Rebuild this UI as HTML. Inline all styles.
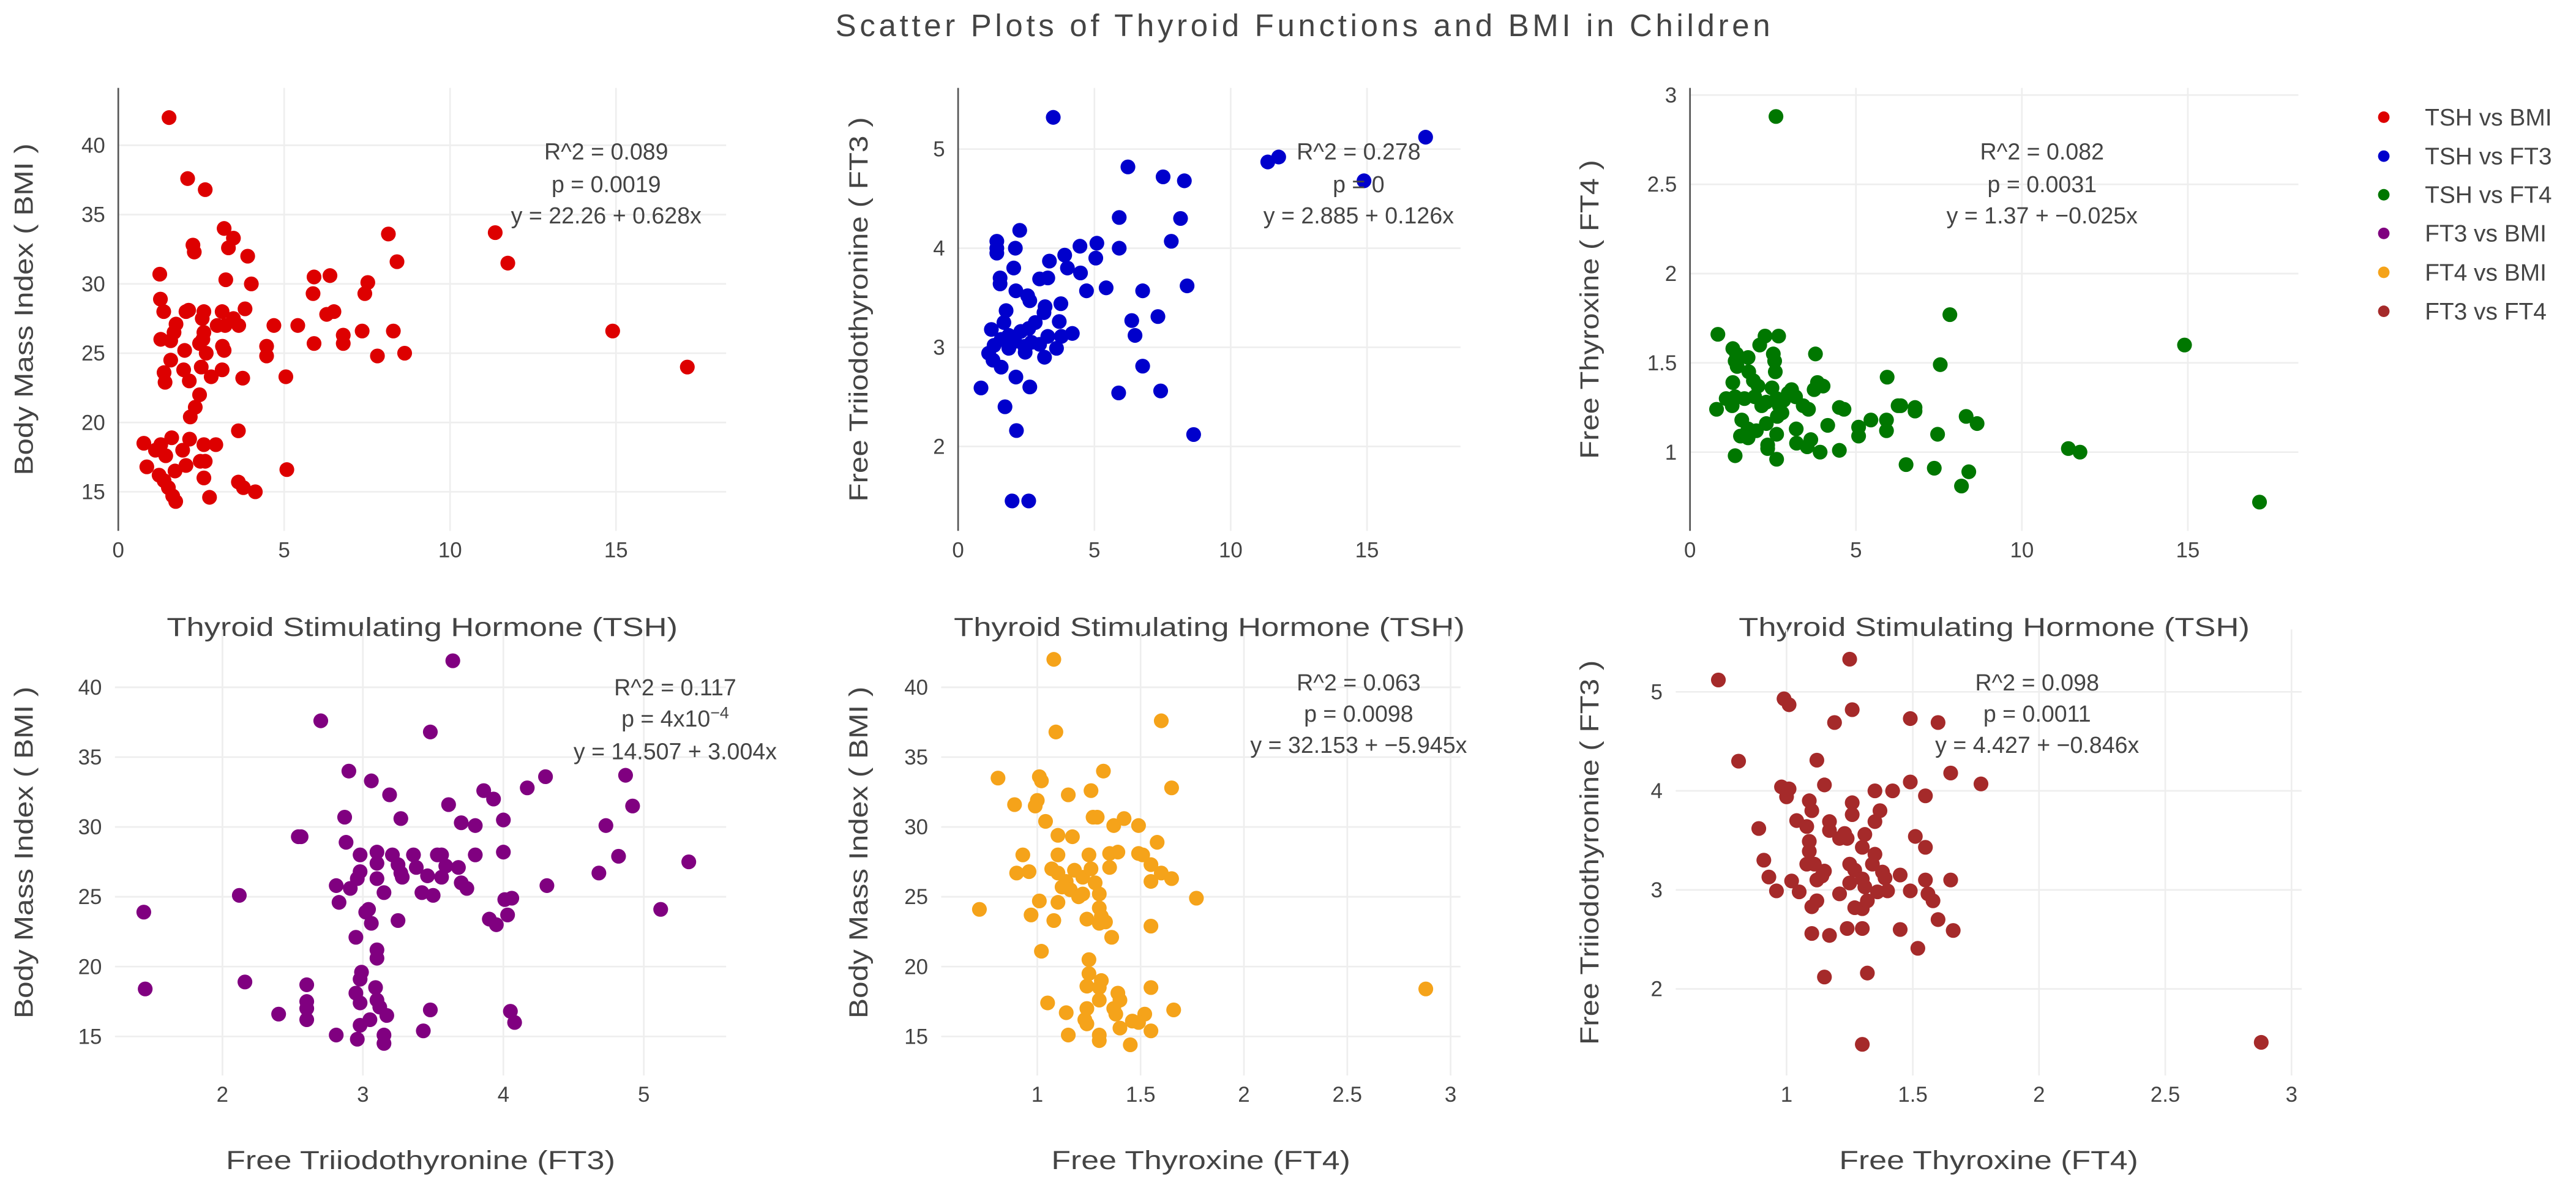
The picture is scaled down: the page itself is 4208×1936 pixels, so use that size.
<!DOCTYPE html>
<html><head><meta charset="utf-8"><title>Scatter Plots of Thyroid Functions and BMI in Children</title>
<style>
html,body{margin:0;padding:0;background:#fff;}
svg{display:block;}
text{font-family:"Liberation Sans",sans-serif;fill:#444;}
</style></head>
<body>
<svg id="chart" xmlns="http://www.w3.org/2000/svg" width="4208" height="1936" viewBox="0 0 1568 721" preserveAspectRatio="none">
<rect x="0" y="0" width="1568" height="721" fill="#fff"/>
<text x="793" y="22" font-size="19" text-anchor="middle" textLength="569">Scatter Plots of Thyroid Functions and BMI in Children</text>
<g id="panels"></g>
<g id="legend"></g>
</svg>
<script>
// ---- data ----
const p1X=[1.53,2.09,2.62,3.19,3.47,3.32,2.25,2.29,3.9,8.14,11.36,11.74,8.4,1.25,3.24,4.01,5.9,6.38,5.87,7.52,7.43,1.27,1.37,2.04,2.12,2.58,2.53,3.13,3.82,3.47,3.63,2.98,3.22,1.74,1.68,2.58,2.55,1.28,1.58,2.45,4.69,5.41,6.28,6.5,6.78,6.78,7.35,8.29,5.9,4.47,4.47,3.14,3.19,2.65,2.0,1.58,7.81,8.63,14.9,17.15,2.5,1.38,1.41,1.97,2.14,2.8,3.13,3.75,5.05,2.45,2.32,2.17,3.62,0.77,1.28,1.43,1.61,2.15,2.58,2.94,1.12,1.94,0.86,2.04,2.47,2.62,2.58,1.23,1.38,1.71,1.51,1.64,1.73,2.75,3.62,3.77,4.13,5.08];
const p1Y=[42.0,37.6,36.8,34.0,33.3,32.6,32.8,32.3,32.0,33.6,33.7,31.5,31.6,30.7,30.3,30.0,30.5,30.6,29.3,30.1,29.3,28.9,28.0,28.0,28.1,28.0,27.5,28.0,28.2,27.5,27.0,27.0,27.0,27.1,26.5,26.5,26.0,26.0,25.9,25.7,27.0,27.0,27.8,28.0,26.3,25.7,26.6,26.6,25.7,25.5,24.8,25.5,25.2,25.0,25.2,24.5,24.8,25.0,26.6,24.0,24.0,23.6,22.9,23.8,23.0,23.3,23.8,23.2,23.3,22.0,21.1,20.4,19.4,18.5,18.4,17.6,18.9,18.8,18.4,18.4,18.0,18.0,16.8,16.9,17.2,17.2,16.0,16.2,15.8,16.5,15.3,14.7,14.3,14.6,15.7,15.3,15.0,16.6];

const p2X=[3.49,17.15,11.36,11.76,14.89,6.23,7.52,8.3,5.91,8.16,7.82,2.26,1.42,1.42,1.42,2.1,4.47,5.09,5.91,5.05,3.91,3.35,4.01,2.04,4.49,1.54,1.54,2.99,3.29,4.71,5.43,6.77,8.4,2.12,2.55,2.63,3.77,3.19,3.15,1.76,1.68,3.71,2.83,6.37,7.33,6.49,1.22,2.3,2.59,4.19,3.79,3.29,1.58,1.86,2.08,2.44,2.69,2.99,1.32,1.86,3.61,1.12,2.46,3.17,1.28,1.58,6.77,2.12,0.84,2.63,5.89,7.43,1.72,2.14,8.64,1.98,2.59];
const p2Y=[5.32,5.12,4.87,4.92,4.68,4.82,4.72,4.68,4.31,4.30,4.07,4.18,4.07,4.0,3.95,4.0,4.02,4.05,4.0,3.9,3.93,3.87,3.8,3.8,3.75,3.7,3.64,3.69,3.7,3.57,3.6,3.57,3.62,3.57,3.52,3.47,3.44,3.41,3.35,3.37,3.25,3.26,3.25,3.27,3.31,3.12,3.18,3.16,3.19,3.14,3.11,3.11,3.08,3.12,3.06,3.01,3.05,3.03,3.02,2.99,2.99,2.94,2.95,2.9,2.87,2.8,2.81,2.7,2.59,2.6,2.54,2.56,2.4,2.16,2.12,1.45,1.45];

const p3X=[2.59,7.83,14.9,0.84,2.26,2.67,2.1,1.29,1.4,1.75,1.36,1.42,2.51,2.55,3.78,7.54,1.77,2.57,1.29,5.94,1.91,2.05,2.47,3.06,2.96,3.84,4.01,3.74,1.09,1.36,1.64,1.95,2.3,2.61,2.82,3.18,2.16,3.41,3.57,1.27,0.8,2.69,2.77,4.5,4.64,6.27,6.35,6.78,6.78,2.63,1.56,2.3,4.15,5.45,5.92,5.92,5.08,5.08,8.32,8.65,1.75,2.0,1.52,1.75,3.2,2.61,7.46,3.21,3.64,3.53,2.34,2.34,3.92,4.5,11.4,11.75,1.36,2.61,6.51,7.36,8.4,8.18,17.16];
const p3Y=[2.88,1.77,1.6,1.66,1.65,1.65,1.6,1.58,1.55,1.53,1.51,1.48,1.55,1.51,1.55,1.49,1.45,1.45,1.39,1.42,1.4,1.37,1.36,1.35,1.33,1.39,1.37,1.35,1.3,1.31,1.3,1.31,1.28,1.3,1.29,1.31,1.26,1.26,1.24,1.26,1.24,1.26,1.22,1.25,1.24,1.26,1.26,1.25,1.23,1.2,1.18,1.16,1.15,1.18,1.18,1.12,1.14,1.09,1.2,1.16,1.13,1.12,1.09,1.08,1.13,1.1,1.1,1.05,1.07,1.03,1.04,1.02,1.0,1.01,1.02,1.0,0.98,0.96,0.93,0.91,0.89,0.81,0.72];

const p4X=[3.64,2.7,3.48,2.9,3.06,3.19,4.87,4.3,4.17,3.86,3.93,3.61,4.92,2.87,3.27,4.0,3.7,3.8,4.73,2.54,2.56,2.88,5.32,2.98,3.1,3.21,3.36,3.53,3.56,3.8,4.0,4.82,3.1,3.25,3.38,3.59,3.68,2.98,3.1,3.27,3.28,3.46,3.56,4.68,2.81,2.91,3.7,3.74,2.96,4.31,3.15,3.42,3.5,2.83,2.12,1.44,5.12,3.02,3.04,4.06,4.01,4.03,3.25,3.9,3.95,3.06,2.95,3.1,3.1,2.99,2.98,1.45,2.16,2.6,2.95,3.09,2.6,2.6,3.1,3.12,2.98,2.4,3.17,3.48,4.05,4.08,2.6,3.05,2.98,2.81,3.43,3.15,2.96,3.15];
const p4Y=[41.9,37.6,36.8,34.0,33.3,32.3,33.7,33.6,32.8,32.6,32.0,31.6,31.5,30.7,30.6,30.5,30.3,30.1,30.1,29.3,29.3,28.9,27.5,28.0,28.2,28.0,28.0,28.0,28.0,28.0,28.2,27.9,27.4,27.3,27.1,27.2,27.1,26.8,26.3,26.7,26.4,26.5,26.4,26.7,25.8,25.6,26.0,25.6,26.3,25.8,25.3,25.3,25.1,24.6,25.1,23.9,24.1,23.9,24.1,24.9,24.8,23.7,23.3,23.4,23.0,23.1,22.1,21.2,20.6,19.6,19.1,18.4,18.9,18.7,18.1,18.5,17.5,17.0,17.6,17.1,17.4,16.6,16.5,16.9,16.8,16.0,16.2,16.2,15.8,15.1,15.4,15.1,14.8,14.5];

const p5X=[1.08,1.6,1.09,0.81,1.32,1.01,1.02,1.65,1.26,1.15,0.89,1.0,0.99,1.27,1.29,1.42,1.04,1.37,1.49,1.1,1.17,1.58,0.93,1.1,1.25,1.35,1.39,1.49,1.51,1.55,1.35,0.9,0.96,1.6,1.65,1.55,1.07,1.1,1.14,1.18,1.22,1.12,1.16,1.22,1.26,1.28,1.77,0.72,1.01,1.1,1.2,1.3,0.97,1.08,1.3,1.31,1.3,1.24,1.33,1.55,1.36,1.02,1.25,1.25,1.31,1.3,1.24,1.55,2.88,1.39,1.4,1.3,1.05,1.66,1.14,1.24,1.37,1.38,1.52,1.46,1.49,1.24,1.23,1.4,1.55,1.15,1.3,1.3,1.45];
const p5Y=[42.0,37.6,36.8,33.5,34.0,33.6,33.3,32.8,32.6,32.3,31.6,31.9,31.5,30.7,30.7,30.6,30.4,30.1,30.1,29.4,29.3,28.9,28.0,28.0,28.0,28.1,28.2,28.1,28.0,27.3,27.1,26.7,26.8,26.7,26.3,26.1,27.0,26.7,26.1,26.9,26.4,25.7,25.5,25.2,27.0,26.0,24.9,24.1,24.7,24.6,25.0,25.2,23.7,23.3,24.2,23.6,23.1,23.4,23.2,22.9,22.1,21.1,20.5,19.5,19.0,18.5,18.6,18.5,18.4,18.1,17.6,17.6,17.4,16.9,16.7,17.0,17.0,16.6,16.6,16.1,16.0,15.9,16.2,15.6,15.4,15.1,15.1,14.7,14.4];

const p6X=[1.25,0.73,0.99,1.01,1.26,1.19,1.49,1.6,0.81,1.12,1.65,1.77,1.49,1.15,0.98,1.01,1.0,1.35,1.42,1.55,1.09,1.26,1.1,1.37,1.26,1.04,1.08,1.17,1.17,1.35,0.89,1.23,1.24,1.21,1.31,1.51,1.55,1.09,1.09,1.3,1.35,0.91,1.08,1.11,1.25,1.27,1.34,1.15,1.14,1.38,1.39,1.45,1.55,1.65,0.93,1.02,1.12,1.25,1.3,1.31,0.96,1.05,1.21,1.36,1.4,1.49,1.56,1.58,1.12,1.1,1.27,1.3,1.32,1.6,1.1,1.17,1.24,1.3,1.45,1.66,1.52,1.32,1.15,1.3,2.88];
const p6Y=[5.33,5.12,4.93,4.87,4.82,4.69,4.73,4.69,4.3,4.31,4.18,4.07,4.09,4.06,4.04,4.02,3.94,4.0,4.0,3.95,3.9,3.88,3.8,3.8,3.76,3.7,3.64,3.69,3.6,3.69,3.62,3.57,3.52,3.52,3.56,3.54,3.43,3.49,3.39,3.43,3.36,3.3,3.26,3.26,3.26,3.2,3.26,3.19,3.14,3.18,3.12,3.15,3.1,3.1,3.13,3.09,3.1,3.07,3.11,3.03,2.99,2.98,2.96,2.98,2.99,2.99,2.96,2.89,2.89,2.83,2.82,2.81,2.89,2.7,2.56,2.54,2.61,2.61,2.6,2.59,2.41,2.16,2.12,1.44,1.46];

const p1XTicks=[0,5,10,15]; const p1YTicks=[15,20,25,30,35,40];
const p2XTicks=[0,5,10,15]; const p2YTicks=[2,3,4,5];
const p3XTicks=[0,5,10,15]; const p3YTicks=[1,1.5,2,2.5,3];
const p4XTicks=[2,3,4,5]; const p4YTicks=[15,20,25,30,35,40];
const p5XTicks=[1,1.5,2,2.5,3]; const p5YTicks=[15,20,25,30,35,40];
const p6XTicks=[1,1.5,2,2.5,3]; const p6YTicks=[2,3,4,5];
const seriesNames=["TSH vs BMI","TSH vs FT3","TSH vs FT4","FT3 vs BMI","FT4 vs BMI","FT3 vs FT4"];
const seriesColors=["#dd0000","#0000cc","#007700","#800080","#f5a31a","#a52a2a"];

// ---- layout (display units; viewBox 1568x721) ----
const NS="http://www.w3.org/2000/svg";
const panels=[
 {id:"tsh-bmi",x:p1X,y:p1Y,xt:p1XTicks,yt:p1YTicks,d:[72,442,53.5,323],xr:[0,18.32],yr:[12.18,44.14],zero:true,
  xTitle:"Thyroid Stimulating Hormone (TSH)",xtl:311,yTitle:"Body Mass Index ( BMI )",ytl:202,ytx:15,
  ann:["R^2 = 0.089","p = 0.0019","y = 22.26 + 0.628x"],ax:369,ay:[97,117,136]},
 {id:"tsh-ft3",x:p2X,y:p2Y,xt:p2XTicks,yt:p2YTicks,d:[583.2,889,53.5,323],xr:[0,18.43],yr:[1.148,5.617],zero:true,
  xTitle:"Thyroid Stimulating Hormone (TSH)",xtl:311,yTitle:"Free Triiodothyronine ( FT3 )",ytl:234,ytx:523,
  ann:["R^2 = 0.278","p = 0","y = 2.885 + 0.126x"],ax:827,ay:[97,117,136]},
 {id:"tsh-ft4",x:p3X,y:p3Y,xt:p3XTicks,yt:p3YTicks,d:[1028.7,1399,53.5,323],xr:[0,18.33],yr:[0.559,3.04],zero:true,
  xTitle:"Thyroid Stimulating Hormone (TSH)",xtl:311,yTitle:"Free Thyroxine ( FT4 )",ytl:182,ytx:968,
  ann:["R^2 = 0.082","p = 0.0031","y = 1.37 + −0.025x"],ax:1243,ay:[97,117,136]},
 {id:"ft3-bmi",x:p4X,y:p4Y,xt:p4XTicks,yt:p4YTicks,d:[70,442,383,654.4],xr:[1.235,5.586],yr:[12.2,44.14],zero:false,
  xTitle:"Free Triiodothyronine (FT3)",xtl:237,yTitle:"Body Mass Index ( BMI )",ytl:202,ytx:15,
  ann:["R^2 = 0.117","P4","y = 14.507 + 3.004x"],ax:411,ay:[423,442,462]},
 {id:"ft4-bmi",x:p5X,y:p5Y,xt:p5XTicks,yt:p5YTicks,d:[572.9,889,383,654.4],xr:[0.535,3.048],yr:[12.2,44.14],zero:false,
  xTitle:"Free Thyroxine (FT4)",xtl:182,yTitle:"Body Mass Index ( BMI )",ytl:202,ytx:523,
  ann:["R^2 = 0.063","p = 0.0098","y = 32.153 + −5.945x"],ax:827,ay:[420,439,458]},
 {id:"ft3-ft4",x:p6X,y:p6Y,xt:p6XTicks,yt:p6YTicks,d:[1020,1401,383,654.4],xr:[0.561,3.04],yr:[1.125,5.63],zero:false,
  xTitle:"Free Thyroxine (FT4)",xtl:182,yTitle:"Free Triiodothyronine ( FT3 )",ytl:234,ytx:968,
  ann:["R^2 = 0.098","p = 0.0011","y = 4.427 + −0.846x"],ax:1240,ay:[420,439,458]}
];
function mk(tag,attrs,parent){const e=document.createElementNS(NS,tag);for(const k in attrs)e.setAttribute(k,attrs[k]);parent.appendChild(e);return e;}
const root=document.getElementById("panels");
panels.forEach((p,i)=>{
  const [x0,x1,y0,y1]=p.d;
  const sx=v=>x0+(v-p.xr[0])/(p.xr[1]-p.xr[0])*(x1-x0);
  const sy=v=>y1-(v-p.yr[0])/(p.yr[1]-p.yr[0])*(y1-y0);
  const g=mk("g",{},root);
  
  
  p.xt.forEach(t=>{
    const l=mk("line",{x1:sx(t),x2:sx(t),y1:y0,y2:y1,stroke:"#eeeeee","stroke-width":1},g);
    
    
    const tx=mk("text",{x:sx(t),y:y1+16,"font-size":13,"text-anchor":"middle"},g);
    tx.textContent=String(t);
    
    
  });
  p.yt.forEach(t=>{
    const l=mk("line",{x1:x0,x2:x1,y1:sy(t),y2:sy(t),stroke:"#eeeeee","stroke-width":1},g);
    
    
    const tx=mk("text",{x:x0-8,y:sy(t)+4.5,"font-size":13,"text-anchor":"end"},g);
    tx.textContent=String(t);
    
    
  });
  if(p.zero){
    const z=mk("line",{x1:sx(0),x2:sx(0),y1:y0,y2:y1,stroke:"#555","stroke-width":1},g);
    
    
  }
  const xt=mk("text",{x:(x0+x1)/2,y:y1+(i<3?64:57),"font-size":16,"text-anchor":"middle",textLength:p.xtl,lengthAdjust:"spacingAndGlyphs"},g);
  xt.textContent=p.xTitle;
  
  
  const cy=(y0+y1)/2;
  const yt=mk("text",{x:p.ytx+5,y:cy,"font-size":16,"text-anchor":"middle",textLength:p.ytl,lengthAdjust:"spacingAndGlyphs",transform:"rotate(-90 "+(p.ytx+5)+" "+cy+")"},g);
  yt.textContent=p.yTitle;
  
  
  const mg=mk("g",{fill:seriesColors[i]},g);
  
  
  p.x.forEach((v,k)=>{
    const c=mk("circle",{cx:sx(v),cy:sy(p.y[k]),r:4.5},mg);
    
    
  });
  p.ann.forEach((s,k)=>{
    const a=mk("text",{x:p.ax,y:p.ay[k],"font-size":14,"text-anchor":"middle"},g);
    if(s==="P4"){
      a.textContent="p = 4x10";
      const sp=mk("tspan",{dy:-5,"font-size":10},a);
      sp.textContent="−4";
    } else a.textContent=s;
    
    
  });
});
const lg=document.getElementById("legend");
const legY=[71.3,95,118.5,142,165.7,189.4];
seriesNames.forEach((n,i)=>{
  const it=mk("g",{},lg);
  
  
  mk("circle",{cx:1451,cy:legY[i],r:3.5,fill:seriesColors[i]},it);
  const t=mk("text",{x:1476,y:legY[i]+5,"font-size":14.5},it);
  t.textContent=n;
});
</script>
</body></html>
